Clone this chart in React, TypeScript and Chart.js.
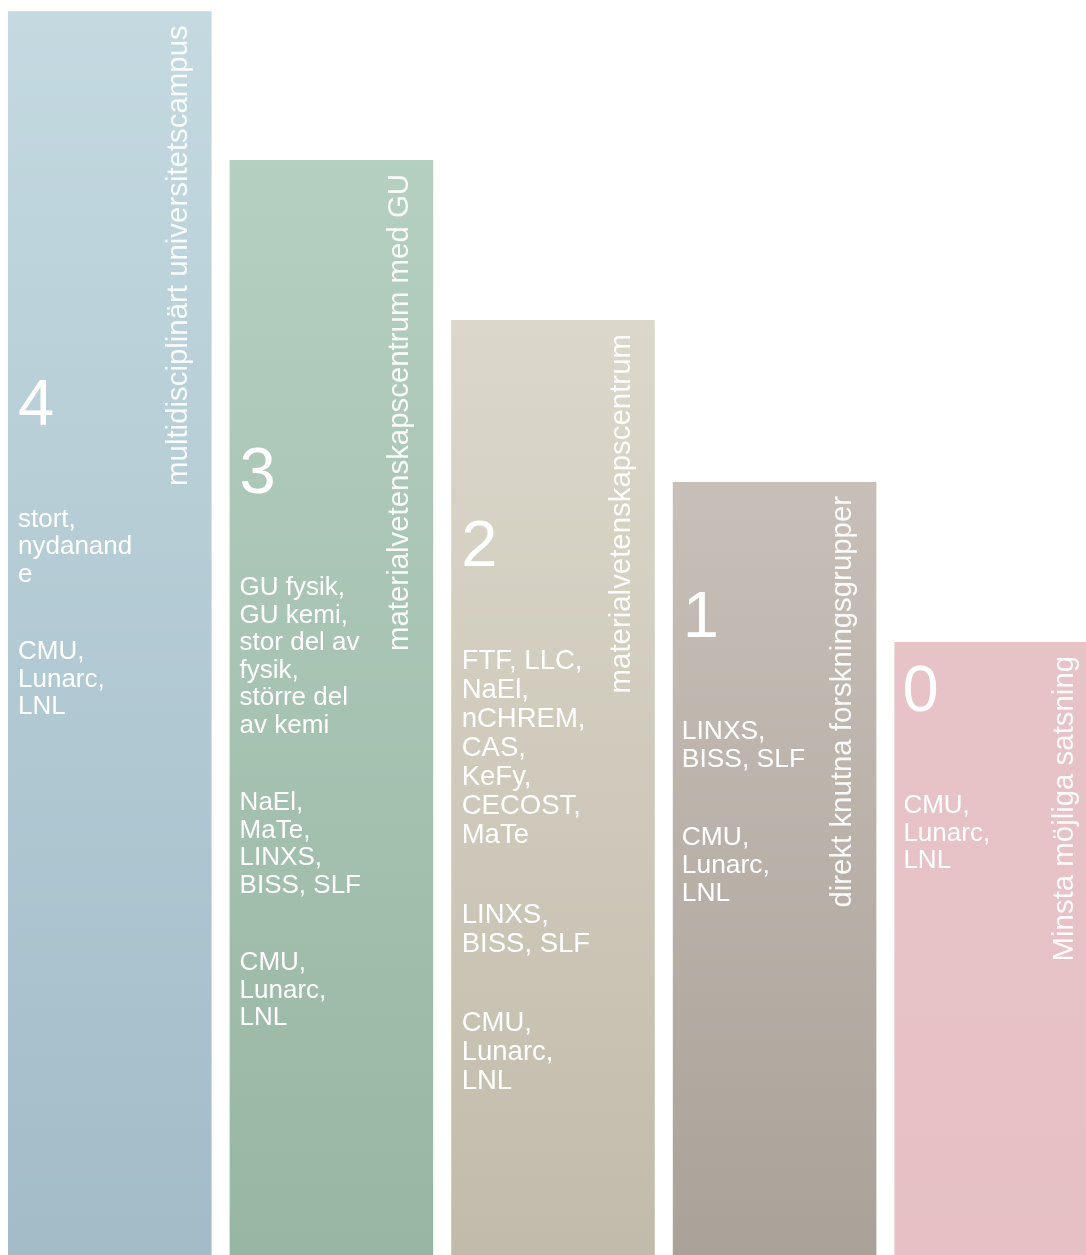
import React, { useEffect, useRef } from "react";
import Chart from "chart.js/auto";

// ---- data ----
const levels = ["4", "3", "2", "1", "0"];
const titles = [
  "multidisciplinärt universitetscampus",
  "materialvetenskapscentrum med GU",
  "materialvetenskapscentrum",
  "direkt knutna forskningsgrupper",
  "Minsta möjliga satsning",
];
const barValues = [99.1, 87.25, 74.5, 61.6, 48.85];
const bar1Text = [["stort,", "nydanand", "e"], ["CMU,", "Lunarc,", "LNL"]];
const bar2Text = [
  ["GU fysik,", "GU kemi,", "stor del av", "fysik,", "större del", "av kemi"],
  ["NaEl,", "MaTe,", "LINXS,", "BISS, SLF"],
  ["CMU,", "Lunarc,", "LNL"],
];
const bar3Text = [
  ["FTF, LLC,", "NaEl,", "nCHREM,", "CAS,", "KeFy,", "CECOST,", "MaTe"],
  ["LINXS,", "BISS, SLF"],
  ["CMU,", "Lunarc,", "LNL"],
];
const bar4Text = [["LINXS,", "BISS, SLF"], ["CMU,", "Lunarc,", "LNL"]];
const bar5Text = [["CMU,", "Lunarc,", "LNL"]];
const barTexts = [bar1Text, bar2Text, bar3Text, bar4Text, bar5Text];

// ---- styles ----
const topColors = ["#c4d9e0", "#b5cfc0", "#dbd8cb", "#c8c0b8", "#e7c3c7"];
const bottomColors = ["#a2bcc8", "#98b6a4", "#c2bbab", "#aaa199", "#e6c0c5"];
const numberOffsets = [390, 310, 223, 132, 46];
const bodyFontSizes = [26, 26, 27.5, 26.4, 26];
const numberDx = [10, 10, 10, 10, 8];
const textDx = [10, 10, 10.5, 9, 9];
const FONT = "'Liberation Sans', Arial, sans-serif";

const textPlugin = {
  id: "barText",
  afterDatasetsDraw(chart: any) {
    const ctx = chart.ctx;
    const meta = chart.getDatasetMeta(0);
    meta.data.forEach((el: any, i: number) => {
      const { x, y, width } = el.getProps(["x", "y", "width"], true);
      const left = x - width / 2;
      const right = x + width / 2;
      ctx.save();
      ctx.fillStyle = "#ffffff";
      ctx.textAlign = "left";
      ctx.textBaseline = "alphabetic";
      // big number
      const numSize = 65;
      const numCenter = y + numberOffsets[i];
      ctx.font = `${numSize}px ${FONT}`;
      ctx.fillText(levels[i], left + numberDx[i], numCenter + 0.358 * numSize);
      // body text
      const fs = bodyFontSizes[i];
      const lh = fs * 1.058;
      ctx.font = `${fs}px ${FONT}`;
      let cy = numCenter + 116;
      barTexts[i].forEach((group, gi) => {
        if (gi > 0) cy += lh + 50;
        group.forEach((line, li) => {
          if (li > 0) cy += lh;
          ctx.fillText(line, left + textDx[i], cy + 0.36 * fs);
        });
      });
      // rotated title
      ctx.translate(right - 25, y + 14);
      ctx.rotate(-Math.PI / 2);
      ctx.textAlign = "right";
      ctx.fillStyle = "rgba(255,255,255,0.92)";
      ctx.font = `29.4px ${FONT}`;
      ctx.fillText(titles[i], 0, 0);
      ctx.restore();
    });
  },
};

export default function App() {
  const ref = useRef<HTMLCanvasElement | null>(null);
  useEffect(() => {
    if (!ref.current) return;
    const chart = new Chart(ref.current, {
      type: "bar",
      data: {
        labels: levels,
        datasets: [
          {
            data: barValues,
            borderWidth: 0,
            barPercentage: 0.9187,
            categoryPercentage: 1,
            backgroundColor: (c: any) => {
              const i = c.dataIndex ?? 0;
              const ch = c.chart;
              const ys = ch.scales && ch.scales.y;
              if (!ys || c.type !== "data") return topColors[i];
              const top = ys.getPixelForValue(barValues[i]);
              const bottom = ys.getPixelForValue(0);
              if (!isFinite(top) || !isFinite(bottom) || top === bottom) return topColors[i];
              const g = ch.ctx.createLinearGradient(0, top, 0, bottom);
              g.addColorStop(0, topColors[i]);
              g.addColorStop(1, bottomColors[i]);
              return g;
            },
          },
        ],
      },
      options: {
        animation: false,
        responsive: true,
        maintainAspectRatio: false,
        layout: { padding: 0 },
        plugins: { legend: { display: false }, tooltip: { enabled: false } },
        scales: {
          x: { display: false, offset: true },
          y: { display: false, min: 0, max: 100 },
        },
      },
      plugins: [textPlugin],
    });
    return () => chart.destroy();
  }, []);
  return (
    <div style={{ position: "fixed", left: 0, top: 0, width: "100vw", height: "100vh", overflow: "hidden", background: "#fff" }}>
      <div style={{ position: "absolute", left: -1, top: 0, width: 1108, height: 1255 }}>
        <canvas ref={ref} />
      </div>
    </div>
  );
}
